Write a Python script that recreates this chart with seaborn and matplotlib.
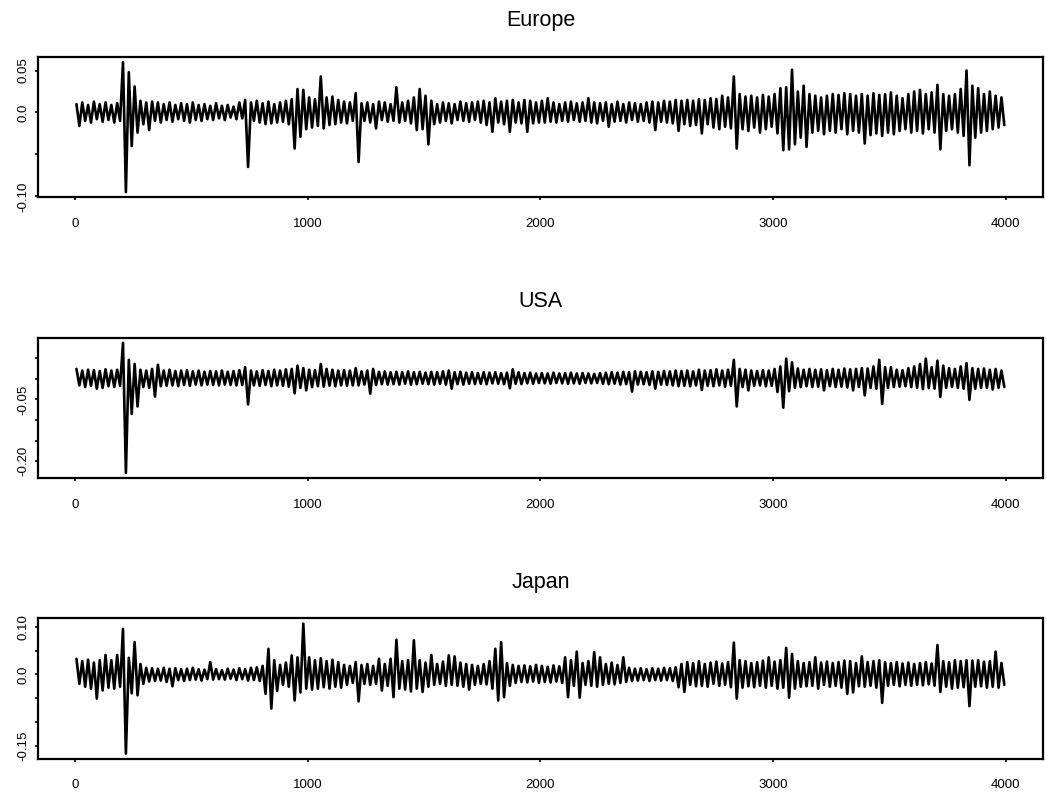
import numpy as np
import pandas as pd
import seaborn as sns
import matplotlib
matplotlib.use("Agg")
import matplotlib.pyplot as plt

# upper / lower envelope of each series per 25-step block, in units of 0.001
europe_hi = [10, 12, 9, 13, 10, 12, 9, 11, 60, 48,
             31, 14, 12, 13, 12, 10, 12, 9, 11, 10,
             12, 9, 10, 8, 11, 8, 9, 7, 12, 15,
             12, 14, 11, 13, 10, 12, 14, 16, 28, 27,
             18, 16, 43, 18, 19, 15, 13, 12, 23, 11,
             12, 10, 13, 12, 10, 30, 12, 14, 18, 28,
             20, 14, 10, 12, 11, 10, 13, 11, 12, 13,
             14, 12, 17, 13, 14, 15, 12, 15, 14, 12,
             14, 17, 12, 10, 12, 13, 11, 12, 17, 12,
             11, 12, 10, 13, 10, 12, 11, 10, 12, 13,
             12, 14, 13, 15, 14, 15, 14, 16, 15, 17,
             16, 20, 18, 43, 22, 19, 20, 18, 21, 19,
             22, 29, 30, 51, 25, 32, 22, 20, 18, 20,
             22, 21, 23, 22, 20, 22, 20, 23, 21, 22,
             24, 20, 17, 22, 25, 27, 22, 24, 33, 22,
             20, 22, 28, 50, 32, 29, 22, 25, 20, 18]
europe_lo = [-16, -10, -12, -8, -11, -9, -12, -10, -95, -40,
             -24, -14, -21, -10, -12, -9, -11, -8, -10, -12,
             -9, -10, -8, -9, -7, -9, -6, -8, -7, -65,
             -10, -12, -14, -13, -12, -11, -14, -43, -29, -20,
             -18, -16, -19, -15, -14, -12, -13, -10, -59, -10,
             -12, -19, -9, -11, -10, -12, -10, -13, -21, -20,
             -38, -14, -12, -10, -13, -9, -10, -11, -9, -12,
             -15, -23, -12, -14, -23, -12, -13, -23, -13, -12,
             -12, -11, -12, -10, -11, -9, -11, -10, -12, -13,
             -10, -17, -11, -10, -12, -9, -11, -10, -12, -21,
             -11, -12, -13, -22, -14, -16, -15, -25, -14, -18,
             -20, -17, -19, -43, -20, -22, -18, -24, -20, -17,
             -25, -45, -44, -38, -30, -41, -24, -22, -26, -22,
             -24, -20, -26, -22, -24, -37, -27, -25, -28, -24,
             -26, -22, -20, -24, -22, -25, -20, -24, -44, -22,
             -20, -24, -28, -63, -30, -24, -22, -20, -18, -15]

usa_hi = [24, 20, 22, 21, 19, 23, 20, 22, 87, 46,
          36, 22, 20, 24, 34, 20, 22, 19, 20, 21,
          18, 20, 17, 19, 18, 20, 17, 19, 21, 28,
          20, 18, 21, 19, 22, 20, 23, 24, 32, 26,
          22, 21, 36, 24, 22, 20, 21, 20, 26, 18,
          20, 24, 17, 18, 16, 17, 16, 18, 16, 17,
          15, 17, 16, 18, 20, 16, 17, 15, 16, 14,
          16, 15, 16, 14, 15, 23, 16, 14, 15, 13,
          14, 13, 15, 13, 14, 15, 13, 14, 13, 12,
          14, 15, 16, 15, 17, 16, 18, 17, 16, 18,
          17, 19, 18, 20, 19, 20, 18, 22, 20, 21,
          23, 20, 22, 46, 24, 22, 20, 19, 21, 20,
          24, 30, 49, 40, 25, 22, 24, 22, 23, 21,
          24, 22, 25, 23, 24, 26, 25, 30, 46, 28,
          28, 22, 21, 26, 30, 36, 49, 28, 44, 32,
          26, 24, 30, 38, 26, 24, 25, 22, 24, 20]
usa_lo = [-16, -20, -17, -24, -22, -18, -20, -17, -228, -85,
          -67, -20, -22, -43, -18, -17, -16, -18, -15, -17,
          -14, -16, -14, -15, -16, -14, -15, -16, -15, -62,
          -16, -17, -15, -18, -16, -17, -19, -35, -22, -28,
          -20, -18, -19, -17, -18, -16, -17, -16, -16, -14,
          -36, -15, -13, -14, -13, -14, -12, -14, -13, -12,
          -13, -14, -12, -14, -24, -13, -14, -12, -13, -12,
          -13, -11, -12, -13, -23, -12, -13, -11, -12, -10,
          -11, -12, -10, -11, -12, -11, -12, -10, -11, -10,
          -12, -13, -12, -14, -13, -31, -14, -13, -15, -24,
          -14, -15, -16, -18, -17, -18, -16, -27, -17, -18,
          -16, -19, -17, -67, -20, -28, -17, -16, -18, -17,
          -32, -70, -30, -22, -20, -18, -20, -19, -28, -18,
          -20, -19, -21, -28, -20, -40, -22, -24, -61, -22,
          -20, -19, -18, -20, -22, -25, -22, -24, -44, -22,
          -20, -22, -24, -51, -24, -22, -22, -26, -22, -20]

japan_hi = [33, 28, 31, 25, 30, 41, 30, 41, 96, 35,
            68, 22, 14, 13, 12, 14, 12, 13, 11, 12,
            14, 11, 10, 26, 11, 9, 12, 10, 13, 11,
            14, 15, 18, 54, 30, 20, 25, 40, 36, 107,
            36, 30, 34, 28, 31, 26, 20, 18, 26, 20,
            22, 18, 33, 22, 33, 73, 28, 30, 72, 30,
            25, 41, 22, 27, 40, 38, 25, 22, 20, 18,
            22, 28, 54, 68, 24, 20, 18, 19, 17, 20,
            18, 16, 19, 17, 36, 30, 48, 24, 28, 47,
            36, 22, 25, 20, 36, 14, 12, 13, 11, 13,
            12, 14, 13, 15, 22, 26, 24, 28, 22, 25,
            27, 23, 26, 67, 30, 28, 24, 26, 29, 36,
            27, 30, 56, 43, 28, 24, 26, 36, 25, 27,
            24, 26, 29, 28, 24, 38, 26, 28, 30, 26,
            24, 26, 23, 25, 22, 24, 26, 23, 62, 28,
            26, 30, 28, 30, 29, 30, 27, 28, 48, 24]
japan_lo = [-20, -26, -30, -51, -34, -28, -30, -26, -167, -40,
            -44, -20, -15, -14, -13, -16, -25, -12, -14, -12,
            -11, -13, -10, -11, -10, -11, -9, -12, -10, -13,
            -12, -14, -41, -72, -35, -22, -26, -55, -38, -30,
            -32, -30, -27, -30, -26, -28, -22, -18, -57, -20,
            -22, -20, -34, -24, -48, -30, -32, -36, -30, -37,
            -26, -22, -20, -24, -22, -24, -26, -32, -22, -20,
            -21, -30, -55, -48, -24, -18, -16, -17, -15, -18,
            -16, -17, -15, -18, -48, -24, -49, -22, -24, -26,
            -22, -20, -21, -18, -16, -14, -13, -12, -14, -12,
            -13, -12, -14, -27, -37, -22, -25, -24, -26, -20,
            -24, -22, -27, -51, -28, -25, -27, -24, -28, -24,
            -30, -28, -49, -30, -26, -25, -24, -30, -22, -26,
            -24, -28, -41, -38, -25, -26, -24, -28, -60, -24,
            -22, -25, -22, -24, -22, -23, -21, -24, -37, -26,
            -30, -28, -27, -67, -26, -25, -28, -26, -28, -22]

titles = ["Europe", "USA", "Japan"]
x_ticks = [0, 1000, 2000, 3000, 4000]
y_ticks = [[-0.10, -0.05, 0.0, 0.05],
           [-0.20, -0.15, -0.10, -0.05, 0.0, 0.05],
           [-0.15, -0.10, -0.05, 0.0, 0.05, 0.10]]
y_labels = [["-0.10", "", "0.0", "0.05"],
            ["-0.20", "", "", "-0.05", "", ""],
            ["-0.15", "", "", "0.0", "", "0.10"]]

series = [(europe_hi, europe_lo), (usa_hi, usa_lo), (japan_hi, japan_lo)]
frames = []
for name, (hi, lo) in zip(titles, series):
    vals = np.column_stack([hi, lo]).ravel() / 1000.0
    t = np.arange(len(vals)) * 12.5 + 6.25
    frames.append(pd.DataFrame({"t": t, "value": vals, "region": name}))
df = pd.concat(frames, ignore_index=True)

sns.set_style("ticks")
plt.rcParams["font.family"] = ["Liberation Sans", "DejaVu Sans"]
plt.rcParams["text.color"] = "black"
plt.rcParams["xtick.color"] = "black"
plt.rcParams["ytick.color"] = "black"
plt.rcParams["axes.edgecolor"] = "black"

fig, axes = plt.subplots(3, 1, figsize=(10.47, 7.97), dpi=100)
fig.subplots_adjust(left=0.0363, right=0.9962, top=0.9285, bottom=0.0479, hspace=1.0)

for i, ax in enumerate(axes):
    sub = df[df["region"] == titles[i]]
    sns.lineplot(data=sub, x="t", y="value", ax=ax, color="black",
                 linewidth=1.9, estimator=None, sort=False)
    ax.set_xlim(1 - 0.04 * 3999, 4000 + 0.04 * 3999)
    ax.margins(y=0.04)
    ax.set_xticks(x_ticks)
    ax.set_xticklabels([str(v) for v in x_ticks])
    ax.set_yticks(y_ticks[i])
    ax.set_yticklabels(y_labels[i], rotation=90, va="center")
    ax.set_xlabel("")
    ax.set_ylabel("")
    ax.set_title(titles[i], fontsize=15.5, pad=22, color="black")
    ax.tick_params(axis="x", length=2.2, width=1.2, pad=12.5, labelsize=9.5)
    ax.tick_params(axis="y", length=2.2, width=1.2, pad=4, labelsize=9.5)
    for s in ax.spines.values():
        s.set_linewidth(1.6)
        s.set_color("black")

fig.savefig("out.png", dpi=100)
